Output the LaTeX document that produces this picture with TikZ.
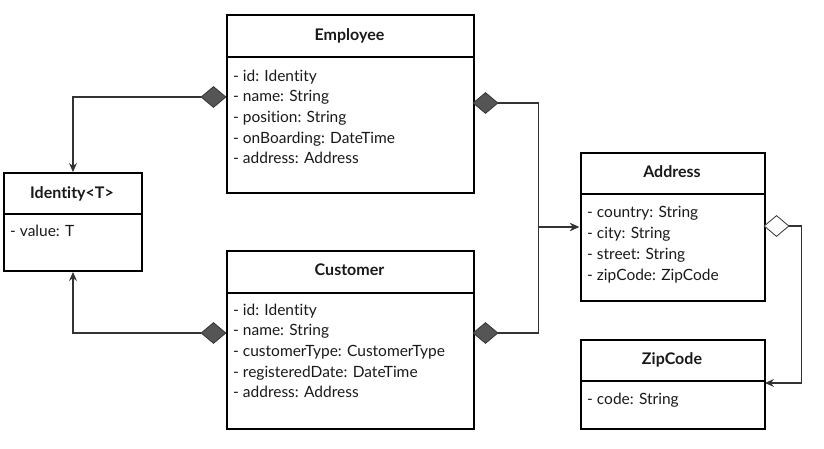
\documentclass[tikz,border=0pt]{standalone}
\usepackage{fontspec}
\setmainfont[Ligatures=NoCommon]{Lato}
\usetikzlibrary{arrows.meta,shapes.geometric}
\definecolor{conncol}{HTML}{333333}
\definecolor{dfill}{HTML}{555555}
\begin{document}
\begin{tikzpicture}[x=1pt,y=-1pt,
  classbox/.style={draw=black,line width=2pt,rectangle,inner sep=0pt,anchor=north west},
  title/.style={anchor=base,inner sep=0pt,font=\fontsize{16}{18}\selectfont\bfseries,text=black!90},
  attr/.style={anchor=base west,inner sep=0pt,font=\fontsize{15.5}{17}\selectfont,text=black!90},
  conn/.style={draw=conncol,line width=1.1pt},
  arr/.style={conn,-{Stealth[length=9pt,width=8pt,inset=3pt]}},
  fdiam/.style={diamond,draw=conncol,fill=dfill,line width=0.8pt,minimum width=25pt,minimum height=21pt,inner sep=0pt},
  odiam/.style={diamond,draw=conncol,fill=white,line width=0.8pt,minimum width=25pt,minimum height=21pt,inner sep=0pt}]
\useasboundingbox (0,0) rectangle (824,448);

% Employee
\node[classbox,minimum width=247pt,minimum height=42pt] (emph) at (226,14) {};
\node[classbox,minimum width=247pt,minimum height=136pt] (empb) at (226,56) {};
\node[title] (empt) at (349.5,40) {Employee};
\foreach \t [count=\i from 0] in {- id: Identity,- name: String,- position: String,- onBoarding: DateTime,- address: Address}
  \node[attr] (emp-\i) at (233,{81+\i*20.7}) {\t};

% Identity
\node[classbox,minimum width=138pt,minimum height=41pt] (idh) at (3,172) {};
\node[classbox,minimum width=138pt,minimum height=57pt] (idb) at (3,213) {};
\node[title] (idt) at (72,198) {Identity<T>};
\node[attr] (id-0) at (10,236.5) {- value: T};

% Customer
\node[classbox,minimum width=247pt,minimum height=42pt] (cush) at (226,250) {};
\node[classbox,minimum width=247pt,minimum height=136pt] (cusb) at (226,292) {};
\node[title] (cust) at (349.5,275) {Customer};
\foreach \t [count=\i from 0] in {- id: Identity,- name: String,- customerType: CustomerType,- registeredDate: DateTime,- address: Address}
  \node[attr] (cus-\i) at (233,{315+\i*20.7}) {\t};

% Address
\node[classbox,minimum width=184pt,minimum height=41pt] (adh) at (580,152) {};
\node[classbox,minimum width=184pt,minimum height=107pt] (adb) at (580,193) {};
\node[title] (adt) at (672,177) {Address};
\foreach \t [count=\i from 0] in {- country: String,- city: String,- street: String,- zipCode: ZipCode}
  \node[attr] (ad-\i) at (587,{217+\i*21}) {\t};

% ZipCode
\node[classbox,minimum width=184pt,minimum height=41pt] (ziph) at (580,339) {};
\node[classbox,minimum width=184pt,minimum height=48pt] (zipb) at (580,380) {};
\node[title] (zipt) at (672,364) {ZipCode};
\node[attr] (zip-0) at (587,404) {- code: String};

% diamonds
\node[fdiam] (ed1) at (213.5,97) {};
\node[fdiam] (cd1) at (213.5,333) {};
\node[fdiam] (ed2) at (485.5,103) {};
\node[fdiam] (cd2) at (485.5,333) {};
\node[odiam] (add) at (776.5,226) {};

\coordinate (addrin) at (579,227);
\coordinate (zipin) at (765,383);

% connectors
\draw[arr] (ed1.west) -| (idh.north);
\draw[arr] (cd1.west) -| (idb.south);
\draw[arr] (ed2.east) -- ++(40.5,0) |- (addrin);
\draw[arr] (cd2.east) -- ++(40.5,0) |- (addrin);
\draw[arr] (add.east) -- ++(12,0) |- (zipin);
\end{tikzpicture}
\end{document}
